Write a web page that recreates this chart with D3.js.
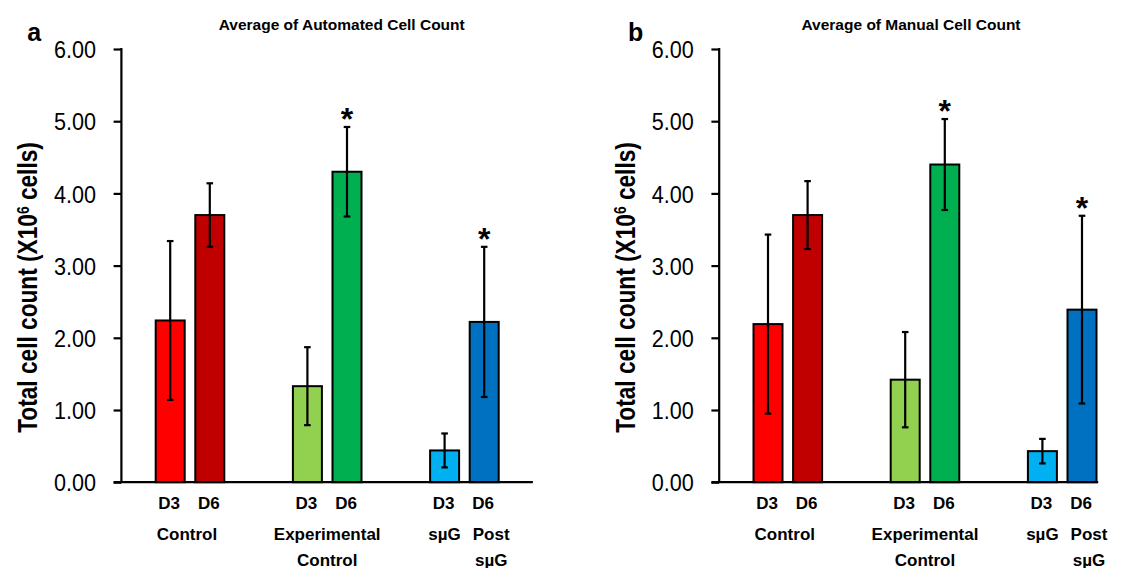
<!DOCTYPE html>
<html>
<head>
<meta charset="utf-8">
<script src="https://cdn.jsdelivr.net/npm/d3@7"></script>
<style>
  body { margin: 0; background: #fff; }
  text { font-family: "Liberation Sans", Arial, sans-serif; fill: #000; }
</style>
</head>
<body>
<div id="chart"></div>
<script>
// data (x10^6 cells)
var groups = ["Control", "Experimental Control", "sµG"];
var days = ["D3", "D6"];
var autoMean = [2.24, 3.70, 1.33, 4.30, 0.44, 2.22];
var autoErr = [1.10, 0.44, 0.54, 0.62, 0.235, 1.04];
var manualMean = [2.19, 3.70, 1.42, 4.40, 0.43, 2.39];
var manualErr = [1.24, 0.47, 0.66, 0.63, 0.17, 1.30];
var starred = [false, false, false, true, false, true];
var barColors = ["#ff0000", "#c00000", "#92d050", "#00b050", "#00b0f0", "#0070c0"];
var yTicks = [0, 1, 2, 3, 4, 5, 6];
var titles = ["Average of Automated Cell Count", "Average of Manual Cell Count"];
var letters = ["a", "b"];

var W = 1121, H = 568;
var svg = d3.select("#chart").append("svg").attr("width", W).attr("height", H);

// panel layout
var panels = [
  { x0: 121.4, axisLen: 411.5, titleX: 341.7, letterX: 27.3, mean: autoMean, err: autoErr },
  { x0: 719.2, axisLen: 379, titleX: 911, letterX: 628, mean: manualMean, err: manualErr }
];
var groupW = 137.2;
var starSize = 32;

var y = d3.scaleLinear().domain([0, 6]).range([482.2, 49]);

panels.forEach(function(p, pi) {
  var g = svg.append("g");

  var x = d3.scaleBand().domain(groups).range([p.x0, p.x0 + groupW * 3]).padding(0);
  var xi = d3.scaleBand().domain(days).range([0, groupW]).paddingInner(0.217).paddingOuter(0.841);

  var rows = [];
  groups.forEach(function(gr, gi) {
    days.forEach(function(dy, di) {
      var k = gi * 2 + di;
      rows.push({ group: gr, day: dy, mean: p.mean[k], err: p.err[k], star: starred[k], color: barColors[k] });
    });
  });
  function cx(d) { return x(d.group) + xi(d.day) + xi.bandwidth() / 2; }

  // y axis
  var yAxis = d3.axisLeft(y).tickValues(yTicks).tickSize(7.8).tickFormat(d3.format(".2f"));
  var ya = g.append("g").attr("transform", "translate(" + p.x0 + ",0)").call(yAxis);
  ya.select(".domain").remove();
  ya.append("line").attr("y1", y(6) - 1).attr("y2", y(0)).attr("stroke", "#000").attr("stroke-width", 2.2);
  ya.selectAll(".tick line").attr("stroke", "#000").attr("stroke-width", 2.2);
  ya.selectAll(".tick text")
    .attr("transform", "scale(0.9,1)")
    .attr("x", -25.4 / 0.9).attr("dy", "0.36em")
    .style("font-size", "24px").style("font-family", "'Liberation Sans', Arial, sans-serif")
    .attr("fill", "#000");

  // bars
  g.selectAll("rect.bar").data(rows).enter().append("rect")
    .attr("class", "bar")
    .attr("x", function(d) { return x(d.group) + xi(d.day) + 1; })
    .attr("width", xi.bandwidth() - 2)
    .attr("y", function(d) { return y(d.mean); })
    .attr("height", function(d) { return y(0) - y(d.mean); })
    .attr("fill", function(d) { return d.color; })
    .attr("stroke", "#000").attr("stroke-width", 2);

  // x axis line
  g.append("line")
    .attr("x1", p.x0 - 7.8).attr("x2", p.x0 + p.axisLen)
    .attr("y1", y(0)).attr("y2", y(0))
    .attr("stroke", "#000").attr("stroke-width", 2.2);

  // error bars
  var eb = g.selectAll("g.err").data(rows).enter().append("g").attr("class", "err")
    .attr("stroke", "#000").attr("stroke-width", 2.2);
  eb.append("line")
    .attr("x1", cx).attr("x2", cx)
    .attr("y1", function(d) { return y(d.mean + d.err); })
    .attr("y2", function(d) { return y(d.mean - d.err); });
  [1, -1].forEach(function(s) {
    eb.append("line")
      .attr("x1", function(d) { return cx(d) - 3.3; })
      .attr("x2", function(d) { return cx(d) + 3.3; })
      .attr("y1", function(d) { return y(d.mean + s * d.err); })
      .attr("y2", function(d) { return y(d.mean + s * d.err); });
  });

  // significance stars
  g.selectAll("text.star").data(rows.filter(function(d) { return d.star; })).enter().append("text")
    .attr("class", "star")
    .attr("x", cx)
    .attr("y", function(d) { return y(d.mean + d.err) - 4 + 0.22 * starSize; })
    .attr("text-anchor", "middle")
    .style("font-size", starSize + "px").style("font-weight", "bold")
    .text("*");

  // day labels
  g.selectAll("text.day").data(rows).enter().append("text")
    .attr("class", "day")
    .attr("x", function(d) { return cx(d) - 1; })
    .attr("y", 508.5)
    .attr("text-anchor", "middle")
    .style("font-size", "17px").style("font-weight", "bold")
    .text(function(d) { return d.day; });

  // group labels
  var lab = [
    { x: x(groups[0]) + groupW / 2 - 3, lines: ["Control"] },
    { x: x(groups[1]) + groupW / 2, lines: ["Experimental", "Control"] },
    { x: cx(rows[4]), lines: ["sµG"] },
    { x: cx(rows[5]) + 7, lines: ["Post", "sµG"] }
  ];
  lab.forEach(function(l) {
    g.append("text")
      .attr("text-anchor", "middle")
      .style("font-size", "17px").style("font-weight", "bold")
      .selectAll("tspan").data(l.lines).enter().append("tspan")
      .attr("x", l.x)
      .attr("y", function(d, i) { return 540 + i * 25.5; })
      .text(function(d) { return d; });
  });

  // y label
  var yl = g.append("text")
    .attr("transform", "translate(" + (p.x0 - 84) + ",287.5) rotate(-90) scale(0.81,1)")
    .attr("text-anchor", "middle")
    .style("font-size", "28px").style("font-weight", "bold");
  yl.append("tspan").text("Total cell count (X10");
  yl.append("tspan").attr("baseline-shift", "super").style("font-size", "17px").text("6");
  yl.append("tspan").text(" cells)");

  // title and panel letter
  g.append("text")
    .attr("x", p.titleX).attr("y", 30)
    .attr("text-anchor", "middle")
    .style("font-size", "15.5px").style("font-weight", "bold")
    .text(titles[pi]);
  g.append("text")
    .attr("x", p.letterX).attr("y", 40.5)
    .style("font-size", "25px").style("font-weight", "bold")
    .text(letters[pi]);
});
</script>
</body>
</html>
